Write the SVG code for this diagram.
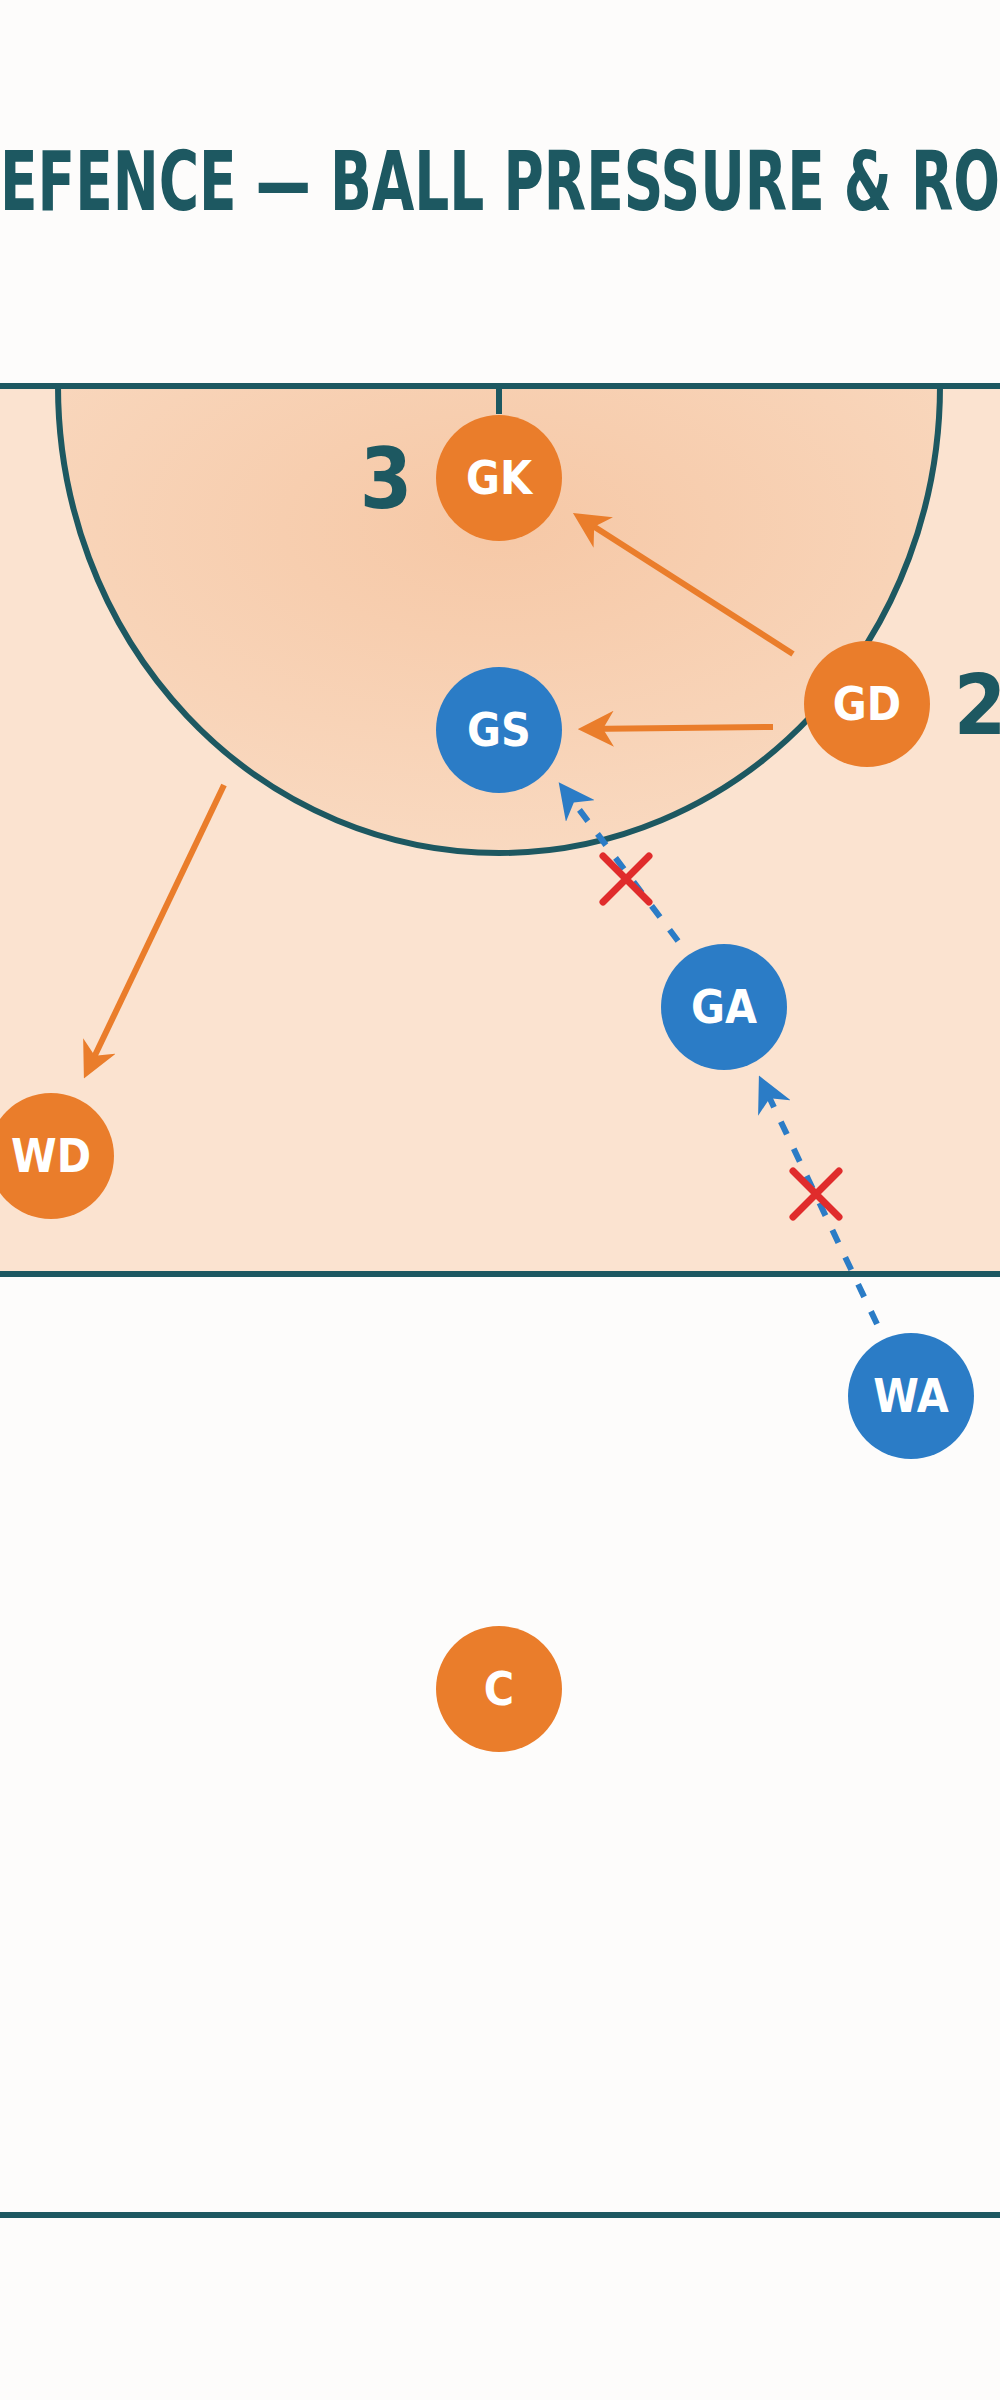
<svg xmlns="http://www.w3.org/2000/svg" width="1000" height="2400" viewBox="0 0 1000 2400">
<defs>
<style>
.ln{stroke:#1d5861;stroke-width:6;fill:none}
.o{fill:#ea7d2b}.b{fill:#2b7cc6}
.lbl{font-family:"DejaVu Sans",sans-serif;font-stretch:condensed;font-weight:bold;font-size:46px;fill:#fff;text-anchor:middle}
.num{font-family:"DejaVu Sans",sans-serif;font-stretch:condensed;font-weight:bold;font-size:84px;fill:#1d5861;text-anchor:middle}
.oa{stroke:#ea7d2b;stroke-width:6;fill:none}
.ba{stroke:#2b7cc6;stroke-width:6;fill:none;stroke-dasharray:14 16}
.x{stroke:#e02c2c;stroke-width:7;stroke-linecap:round}
</style>
<radialGradient id="g" cx="0.5" cy="0.3" r="0.7"><stop offset="0" stop-color="#f6c8a6"/><stop offset="1" stop-color="#f9d9c0"/></radialGradient>
<marker id="ao" viewBox="0 0 10 10" refX="8" refY="5" markerWidth="6" markerHeight="6" orient="auto"><path d="M0,0L10,5L0,10L3,5Z" fill="#ea7d2b"/></marker>
<marker id="ab" viewBox="0 0 10 10" refX="8" refY="5" markerWidth="6" markerHeight="6" orient="auto"><path d="M0,0L10,5L0,10L3,5Z" fill="#2b7cc6"/></marker>
</defs>
<rect width="1000" height="2400" fill="#fdfcfb"/>
<text x="0" y="210" textLength="1000" lengthAdjust="spacingAndGlyphs" font-family="DejaVu Sans,sans-serif" font-stretch="condensed" font-weight="bold" font-size="82" fill="#1d5861">EFENCE — BALL PRESSURE &amp; RO</text>
<rect x="0" y="386" width="1000" height="888" fill="#fbe3d0"/>
<g id="court">
<path d="M58,386 A441,467 0 0 0 940,386 Z" fill="url(#g)"/>
<path class="ln" d="M58,386 A441,467 0 0 0 940,386"/>
<line class="ln" x1="0" y1="386" x2="1000" y2="386"/>
<line class="ln" x1="499" y1="386" x2="499" y2="414"/>
<line class="ln" x1="0" y1="1274" x2="1000" y2="1274"/>
<line class="ln" x1="0" y1="2215" x2="1000" y2="2215"/>
</g>
<g id="connectors">
<line class="oa" x1="793" y1="654" x2="579" y2="517" marker-end="url(#ao)"/>
<line class="oa" x1="773" y1="727" x2="585" y2="729" marker-end="url(#ao)"/>
<line class="oa" x1="224" y1="785" x2="87" y2="1072" marker-end="url(#ao)"/>
<line class="ba" x1="877" y1="1324" x2="762" y2="1082" marker-end="url(#ab)"/>
<line class="ba" x1="678" y1="941" x2="563" y2="788" marker-end="url(#ab)"/>
<path class="x" d="M603,856L649,902M649,856L603,902"/>
<path class="x" d="M793,1171L839,1217M839,1171L793,1217"/>
</g>
<g id="GK"><circle class="o" cx="499" cy="478" r="63"/><text class="lbl" x="499" y="494">GK</text></g>
<text class="num" x="386" y="508">3</text>
<g id="GS"><circle class="b" cx="499" cy="730" r="63"/><text class="lbl" x="499" y="746">GS</text></g>
<g id="GD"><circle class="o" cx="867" cy="704" r="63"/><text class="lbl" x="867" y="720">GD</text></g>
<text class="num" x="980" y="734">2</text>
<g id="GA"><circle class="b" cx="724" cy="1007" r="63"/><text class="lbl" x="724" y="1023">GA</text></g>
<g id="WD"><circle class="o" cx="51" cy="1156" r="63"/><text class="lbl" x="51" y="1172">WD</text></g>
<g id="WA"><circle class="b" cx="911" cy="1396" r="63"/><text class="lbl" x="911" y="1412">WA</text></g>
<g id="C"><circle class="o" cx="499" cy="1689" r="63"/><text class="lbl" x="499" y="1705">C</text></g>
</svg>
